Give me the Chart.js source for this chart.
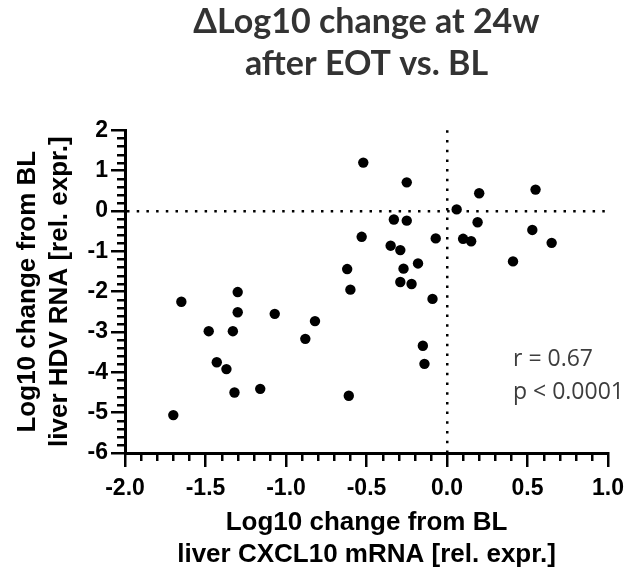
<!DOCTYPE html>
<html>
<head>
<meta charset="utf-8">
<script src="https://cdn.jsdelivr.net/npm/chart.js@4"></script>
<style>
  html, body { margin: 0; padding: 0; background: #fff; }
</style>
</head>
<body>
<canvas id="scatterChart" width="626" height="572"></canvas>
<script>
// CXCL10 change (x) vs HDV RNA change (y), log10 from BL
const cxcl10Change = [
	-0.52, -0.25, 0.20, 0.55, 0.06, -0.33, -0.25, 0.19, 0.53, -0.53,
	-0.07, 0.10, 0.15, 0.65, -0.35, -0.29, 0.41, -0.18, -0.62, -0.27,
	-0.60, -0.29, -0.22, -0.09, -0.15, -0.14, -0.61, -1.65, -1.30, -1.30,
	-1.07, -0.82, -1.48, -1.33, -0.88, -1.43, -1.37, -1.32, -1.16, -1.70
];
const hdvChange = [
	1.20, 0.71, 0.44, 0.53, 0.04, -0.21, -0.24, -0.28, -0.47, -0.64,
	-0.68, -0.69, -0.75, -0.79, -0.86, -0.97, -1.25, -1.30, -1.44, -1.43,
	-1.95, -1.76, -1.81, -2.18, -3.34, -3.79, -4.58, -2.25, -2.01, -2.51,
	-2.55, -2.73, -2.98, -2.98, -3.17, -3.75, -3.92, -4.50, -4.41, -5.06
];
const xTickRange = [-2.0, 1.0];
const yTickRange = [-6, 2];
const titleLines = ['\u0394Log10 change at 24w', 'after EOT vs. BL'];
const xTitleLines = ['Log10 change from BL', 'liver CXCL10 mRNA [rel. expr.]'];
const yTitleLines = ['Log10 change from BL', 'liver HDV RNA [rel. expr.]'];
const statsLines = ['r = 0.67', 'p < 0.0001'];
const statsAnchor = {x: 0.41, y: [-3.84, -4.66]};

const points = cxcl10Change.map((v, i) => ({x: v, y: hdvChange[i]}));

const tickFont = {family: 'Arial, "Liberation Sans", sans-serif', size: 23, weight: 'bold'};
const titleFont = {family: 'Arial, "Liberation Sans", sans-serif', size: 26, weight: 'bold', lineHeight: 1.2};

// minor ticks + stats text
const extras = {
	id: 'extras',
	afterDraw(chart) {
		const {ctx, scales: {x, y}} = chart;
		ctx.save();
		ctx.strokeStyle = '#000';
		ctx.lineWidth = 2.5;
		ctx.beginPath();
		for (let i = 0; i <= 30; i++) {
			if (i % 5 === 0) continue;
			const px = Math.round(x.getPixelForValue(xTickRange[0] + i * 0.1)) + 0.25;
			ctx.moveTo(px, y.bottom);
			ctx.lineTo(px, y.bottom + 8);
		}
		for (let i = 0; i <= 40; i++) {
			if (i % 5 === 0) continue;
			const py = Math.round(y.getPixelForValue(yTickRange[0] + i * 0.2)) + 0.25;
			ctx.moveTo(x.left, py);
			ctx.lineTo(x.left - 8, py);
		}
		ctx.stroke();

		ctx.fillStyle = '#3d3d3d';
		ctx.font = '23px "Open Sans", sans-serif';
		ctx.textAlign = 'left';
		ctx.textBaseline = 'alphabetic';
		statsLines.forEach((t, i) => {
			ctx.fillText(t, x.getPixelForValue(statsAnchor.x), y.getPixelForValue(statsAnchor.y[i]));
		});
		ctx.restore();
	}
};

const zeroGrid = (ctx) => (ctx.tick && ctx.tick.value === 0 ? '#000' : 'rgba(0,0,0,0)');

new Chart(document.getElementById('scatterChart'), {
	type: 'scatter',
	data: {
		datasets: [{
			data: points,
			backgroundColor: '#000',
			borderWidth: 0,
			pointRadius: 5.2,
			pointHoverRadius: 5.2
		}]
	},
	options: {
		responsive: false,
		animation: false,
		layout: {padding: {left: 0, right: 0, top: 0, bottom: 0}},
		plugins: {
			legend: {display: false},
			tooltip: {enabled: false},
			title: {
				display: true,
				fullSize: false,
				text: titleLines,
				color: '#333',
				font: {family: 'Lato, sans-serif', size: 34, weight: 'bold', lineHeight: 1.24},
				padding: {top: 1, bottom: 45}
			}
		},
		scales: {
			x: {
				type: 'linear',
				min: xTickRange[0],
				max: xTickRange[1],
				afterFit: (scale) => {
					scale.height = 119;
					scale.paddingLeft = 0;
					scale.paddingRight = 18;
				},
				ticks: {
					stepSize: 0.5,
					color: '#000',
					font: tickFont,
					padding: 8,
					maxRotation: 0,
					callback: (v) => v.toFixed(1)
				},
				grid: {
					color: zeroGrid,
					lineWidth: 2.5,
					tickColor: '#000',
					tickWidth: 2.5,
					tickLength: 14
				},
				border: {color: '#000', width: 3, dash: [2.5, 7.2]},
				title: {
					display: true,
					text: xTitleLines,
					color: '#000',
					font: titleFont,
					padding: {top: 0, bottom: 2}
				}
			},
			y: {
				type: 'linear',
				min: yTickRange[0],
				max: yTickRange[1],
				afterFit: (scale) => { scale.width = 125; },
				ticks: {
					stepSize: 1,
					color: '#000',
					font: tickFont,
					padding: 3
				},
				grid: {
					color: zeroGrid,
					lineWidth: 2.5,
					tickColor: '#000',
					tickWidth: 2.5,
					tickLength: 14
				},
				border: {color: '#000', width: 3, dash: [2.5, 7.2]},
				title: {
					display: true,
					text: yTitleLines,
					color: '#000',
					font: {family: 'Arial, "Liberation Sans", sans-serif', size: 26, weight: 'bold', lineHeight: 1.22},
					padding: {top: 12, bottom: 0}
				}
			}
		}
	},
	plugins: [extras]
});
</script>
</body>
</html>
